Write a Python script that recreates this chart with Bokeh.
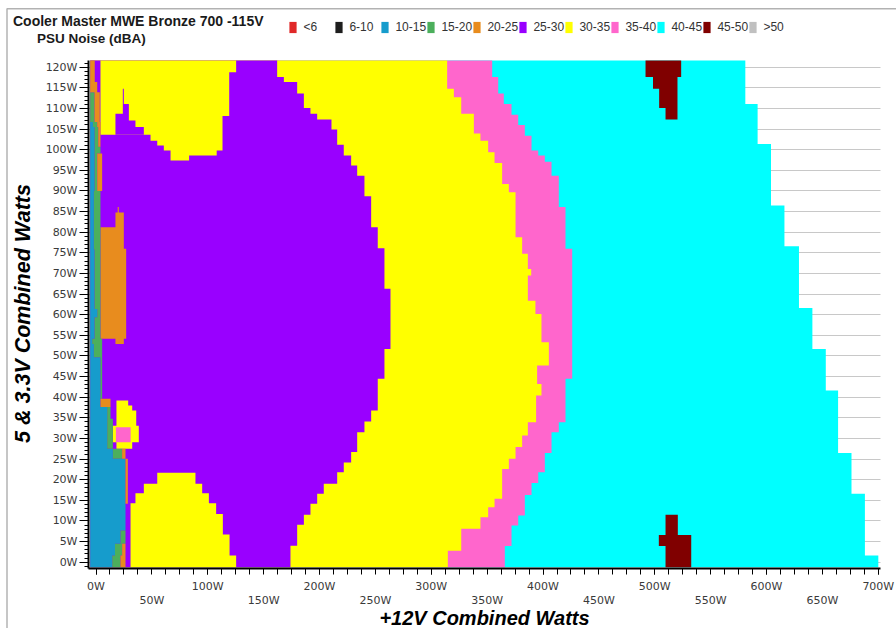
import math
from bokeh.plotting import figure
from bokeh.models import (Range1d, LinearAxis, FixedTicker, SingleIntervalTicker, Grid,
                          PrintfTickFormatter, Label, Legend, LegendItem, PolyAnnotation)
from bokeh.embed import file_html
from bokeh.resources import INLINE

# ---------------------------------------------------------------- bands
bands = ["<6", "6-10", "10-15", "15-20", "20-25", "25-30", "30-35", "35-40", "40-45", "45-50", ">50"]
band_colors = ["#e02828", "#1e1e1e", "#169ccc", "#4caf5c", "#e88c1e", "#9900ff",
               "#ffff00", "#ff66cc", "#00ffff", "#800000", "#c0c0c0"]

# left edge of the measured grid (+12V watts)
x_start = -5.2

# 40-45 dBA: full measured area, right edge per 5V/3.3V load band
cyan_y = [-1.2, 1.6, 16.6, 26.5, 41.6, 51.7, 61.6, 76.6, 86.5, 101.4, 111.1, 121.6]
cyan_x = [700.0, 688.0, 676.0, 664.0, 653.0, 641.0, 629.0, 616.0, 604.0, 592.0, 581.0]

# 45-50 dBA pockets
maroon_top_y = [107.3, 110.1, 114.8, 117.6, 121.6]
maroon_top_l = [509.6, 503.9, 498.4, 491.7]
maroon_top_r = [520.3, 520.3, 520.3, 523.6]
maroon_bot_y = [-1.2, 3.9, 6.6, 11.5]
maroon_bot_l = [509.6, 503.6, 509.6]
maroon_bot_r = [532.6, 532.6, 520.6]

# 35-40 dBA: right edge (start of 40-45)
pink_y = [-1.2, 3.9, 8.9, 11.3, 16.3, 19.2, 21.8, 26.5, 31.5, 33.9, 44.5, 76.0, 86.1, 93.7,
          97.1, 98.6, 99.8, 103.4, 106.0, 108.5, 111.1, 113.6, 117.6, 121.6]
pink_x = [365.8, 371.8, 377.8, 383.7, 389.7, 395.7, 401.6, 407.6, 414.1, 420.1, 426.1, 420.1,
          414.1, 407.6, 401.6, 395.7, 389.7, 383.7, 377.8, 371.8, 364.9, 359.9, 354.5]

# 30-35 dBA: right edge (start of 35-40)
yellow_y = [-1.2, 2.8, 8.1, 10.9, 13.3, 15.4, 22.6, 25.1, 27.9, 30.7, 33.9, 40.4, 43.2, 47.7,
            53.3, 60.2, 63.4, 69.5, 71.1, 74.8, 78.8, 89.7, 91.7, 96.8, 99.4, 102.2, 103.9,
            108.7, 112.7, 114.8, 121.6]
yellow_x = [314.8, 326.8, 344.0, 350.9, 356.6, 363.4, 369.4, 375.4, 381.3, 386.4, 393.8, 398.6,
            394.7, 405.2, 398.6, 393.2, 386.4, 389.4, 386.4, 381.3, 375.4, 369.4, 363.4, 356.6,
            350.9, 344.0, 338.1, 326.8, 320.2, 314.2]

# 25-30 dBA: right edge (start of 30-35)
purple_y = [-1.2, 4.0, 9.1, 11.5, 14.2, 16.6, 19.0, 21.8, 24.2, 26.7, 31.5, 34.1, 36.8, 44.5,
            51.7, 66.3, 76.1, 81.2, 88.7, 93.7, 96.2, 98.6, 101.2, 104.9, 107.3, 108.7, 110.1,
            113.6, 116.4, 117.6, 121.6]
purple_x = [174.0, 180.0, 186.0, 191.9, 197.9, 203.8, 215.8, 221.7, 228.3, 233.7, 240.2, 246.2,
            252.1, 258.1, 263.5, 258.1, 252.1, 246.2, 240.2, 233.7, 228.3, 221.7, 215.8, 210.7,
            197.9, 191.9, 186.0, 180.0, 168.1, 162.1]

# 30-35 dBA islands inside the 25-30 area
ytop_y = [97.4, 98.6, 99.8, 101.0, 102.2, 103.6, 108.2, 118.8, 121.6]
ytop_l = [66.7, 66.7, 60.7, 54.8, 48.8, 4.0, 4.0, 4.0]
ytop_r = [83.3, 108.0, 113.2, 113.2, 113.2, 113.2, 119.2, 125.4]

notch_y = [103.6, 105.5, 107.1, 108.7, 111.1, 114.8]
notch_l = [17.4, 17.4, 17.4, 24.0, 24.0]
notch_r = [42.8, 35.3, 29.4, 29.4, 24.9]

ybot_y = [-1.2, 1.6, 6.7, 11.7, 14.3, 16.7, 19.0, 21.7]
ybot_l = [30.9, 30.9, 30.9, 30.9, 35.3, 42.8, 54.8]
ybot_r = [125.4, 119.5, 113.5, 107.5, 101.0, 95.0, 89.0]

ysmall_y = [27.5, 29.1, 33.1, 36.8, 38.0, 39.2]
ysmall_l = [18.3, 15.1, 18.3, 18.3, 18.3]
ysmall_r = [32.4, 38.3, 36.0, 32.4, 28.8]

psmall_y = [29.1, 32.7]
psmall_l = [17.8]
psmall_r = [31.0]

# 20-25 dBA block
orange_blk_y = [52.9, 54.2, 76.0, 81.2, 84.8, 86.1]
orange_blk_l = [17.4, 4.0, 4.0, 17.4, 19.4]
orange_blk_r = [24.9, 27.0, 24.9, 24.9, 20.4]

# low-load strip: end of 10-15, end of 15-20, end of 20-25 per row
strip_y = [-1.2, 1.6, 4.5, 7.7, 14.2, 25.1, 27.5, 34.8, 37.6, 39.6, 49.7, 52.9, 54.2, 59.4,
           61.4, 75.8, 90.0, 99.1, 100.7, 105.5, 106.7, 113.9, 116.4, 121.6]
strip_blue = [14.5, 17.0, 21.9, 26.4, 26.4, 15.1, 10.0, 10.0, 4.0, 4.0, -1.9, -3.4, -1.3, 1.1,
              -1.3, -1.9, -1.3, -1.3, -1.3, -2.8, -5.2, -5.2, -5.2]
strip_green = [21.9, 23.4, 26.4, 26.4, 26.4, 23.4, 15.1, 13.0, 4.0, 5.5, 5.5, 5.5, 4.0, 4.0,
               4.0, 4.0, 1.1, 4.0, 2.0, 1.1, -1.3, -5.2, -5.2]
strip_orange = [26.4, 26.4, 26.4, 26.4, 28.5, 26.4, 15.1, 13.0, 13.0, 5.5, 5.5, 5.5, 4.0, 4.0,
                4.0, 4.0, 5.5, 4.0, 4.0, 4.0, 3.4, 1.1, -1.1]

# axis extents and tick positions (watts)
x_lo, x_hi = -6.7, 701.9
y_lo, y_hi = -1.53, 121.58
x_major = [0, 100, 200, 300, 400, 500, 600, 700]
x_minor = [i * 12.5 for i in range(57)]
x_second = [50, 150, 250, 350, 450, 550, 650]


def outline(y_edges, x_left, x_right):
    """Closed outline of a stepped region given per-row left/right edges."""
    n = len(y_edges) - 1
    if not isinstance(x_left, list):
        x_left = [x_left] * n
    if not isinstance(x_right, list):
        x_right = [x_right] * n
    xs, ys = [], []
    for i in range(n):
        xs += [x_right[i], x_right[i]]
        ys += [y_edges[i], y_edges[i + 1]]
    for i in reversed(range(n)):
        xs += [x_left[i], x_left[i]]
        ys += [y_edges[i + 1], y_edges[i]]
    return xs, ys


# The frame fills the whole canvas; the axes sit at fixed positions inside it so that
# titles, legend and page lines are drawn in the same space.
W, H = 896, 628
px_per_x = 1.1176
px_per_y = 4.125
x0_px, y0_px = 95.5, 561.7          # pixel position of 0 W on each axis
p = figure(width=W, height=H, title=None,
           x_range=Range1d(-x0_px / px_per_x, (W - x0_px) / px_per_x),
           y_range=Range1d((y0_px - H) / px_per_y, y0_px / px_per_y),
           output_backend="svg", toolbar_location=None, x_axis_type=None, y_axis_type=None,
           min_border=0, min_border_left=0, min_border_right=0, min_border_top=0,
           min_border_bottom=0)
p.outline_line_color = None
p.background_fill_color = "white"
p.border_fill_color = "white"

col = dict(zip(bands, band_colors))

# horizontal grid behind the data
ytick = SingleIntervalTicker(interval=5, num_minor_ticks=5)
p.add_layout(Grid(dimension=1, ticker=ytick, bounds=(0, 120), cross_bounds=(x_lo, x_hi),
                  grid_line_color="#c8c8c8", grid_line_width=1))

legend_src = {}


def region(band, y_edges, x_left, x_right):
    xs, ys = outline(y_edges, x_left, x_right)
    r = p.patch(xs, ys, fill_color=col[band], line_color=None)
    legend_src.setdefault(band, r)
    return r


region("40-45", cyan_y, x_start, cyan_x)
region("45-50", maroon_top_y, maroon_top_l, maroon_top_r)
region("45-50", maroon_bot_y, maroon_bot_l, maroon_bot_r)
region("35-40", pink_y, x_start, pink_x)
region("30-35", yellow_y, x_start, yellow_x)
region("25-30", purple_y, x_start, purple_x)
region("30-35", ytop_y, ytop_l, ytop_r)
region("25-30", notch_y, notch_l, notch_r)
region("30-35", ybot_y, ybot_l, ybot_r)
region("30-35", ysmall_y, ysmall_l, ysmall_r)
region("35-40", psmall_y, psmall_l, psmall_r)
region("20-25", orange_blk_y, orange_blk_l, orange_blk_r)
region("10-15", strip_y, x_start, strip_blue)
region("15-20", strip_y, strip_blue, strip_green)
region("20-25", strip_y, strip_green, strip_orange)

# bands with no measured cells: an empty (NaN) outline keeps their legend swatch
for b in bands:
    if b not in legend_src:
        legend_src[b] = p.patch([math.nan], [math.nan], fill_color=col[b], line_color=None)

# axes
tick_font = "DejaVu Sans"
tick_color = "#3a3a3a"
yaxis = LinearAxis(ticker=ytick, formatter=PrintfTickFormatter(format="%dW"),
                   fixed_location=x_lo, bounds=(y_lo, y_hi))
yaxis.axis_line_width = 2
yaxis.axis_line_color = "black"
yaxis.major_tick_out = 9
yaxis.major_tick_in = 0
yaxis.minor_tick_out = 4
yaxis.minor_tick_in = 0
yaxis.major_label_standoff = 2
yaxis.major_label_text_font = tick_font
yaxis.major_label_text_font_size = "11px"
yaxis.major_label_text_color = tick_color
p.add_layout(yaxis, "left")

xaxis = LinearAxis(ticker=FixedTicker(ticks=x_major, minor_ticks=x_minor),
                   formatter=PrintfTickFormatter(format="%dW"),
                   fixed_location=y_lo, bounds=(x_lo, x_hi))
xaxis.axis_line_width = 2
xaxis.axis_line_color = "black"
xaxis.major_tick_out = 6
xaxis.major_tick_in = 0
xaxis.minor_tick_out = 6
xaxis.minor_tick_in = 0
xaxis.major_label_standoff = 5
xaxis.major_label_text_font = tick_font
xaxis.major_label_text_font_size = "11px"
xaxis.major_label_text_color = tick_color
p.add_layout(xaxis, "below")

xaxis2 = LinearAxis(ticker=FixedTicker(ticks=x_second, minor_ticks=[]),
                    formatter=PrintfTickFormatter(format="%dW"),
                    fixed_location=y_lo, bounds=(0, 700))
xaxis2.axis_line_color = None
xaxis2.major_tick_line_color = None
xaxis2.minor_tick_line_color = None
xaxis2.major_tick_out = 0
xaxis2.major_tick_in = 0
xaxis2.major_label_standoff = 25
xaxis2.major_label_text_font = tick_font
xaxis2.major_label_text_font_size = "11px"
xaxis2.major_label_text_color = tick_color
p.add_layout(xaxis2, "below")

# titles (screen pixels from the canvas' lower-left corner)
title_font = "Liberation Sans"
p.add_layout(Label(x=12.5, y=H - 12, x_units="screen", y_units="screen",
                   text="Cooler Master MWE Bronze 700 -115V", text_font=title_font,
                   text_font_size="14px", text_font_style="bold", text_color="#1a1a1a",
                   text_baseline="top"))
p.add_layout(Label(x=36.5, y=H - 30.5, x_units="screen", y_units="screen",
                   text="PSU Noise (dBA)", text_font=title_font,
                   text_font_size="13.5px", text_font_style="bold", text_color="#1a1a1a",
                   text_baseline="top"))
p.add_layout(Label(x=22, y=H - 313, x_units="screen", y_units="screen",
                   text="5 & 3.3V Combined Watts", angle=math.pi / 2, text_font=title_font,
                   text_font_size="21.5px", text_font_style="bold italic", text_color="black",
                   text_align="center", text_baseline="middle"))
p.add_layout(Label(x=484, y=H - 617, x_units="screen", y_units="screen",
                   text="+12V Combined Watts", text_font=title_font,
                   text_font_size="20px", text_font_style="bold italic", text_color="black",
                   text_align="center", text_baseline="middle"))

legend = Legend(items=[LegendItem(label=b, renderers=[legend_src[b]]) for b in bands],
                orientation="horizontal", location=(288.4, H - 33.5),
                glyph_width=9, glyph_height=14, label_standoff=6, label_width=31, spacing=0,
                padding=0, margin=0, label_height=12,
                label_text_font=title_font, label_text_font_size="12px",
                label_text_color="#333333", background_fill_alpha=0, border_line_color=None)
p.add_layout(legend, "center")

# page frame lines on the left and top
p.add_layout(PolyAnnotation(xs=[6.5, 6.5, W + 10, W + 10], ys=[-10, H - 8.3, H - 8.3, -10],
                            xs_units="screen", ys_units="screen", fill_alpha=0,
                            line_color="black", line_width=1.5))

open("out.html", "w").write(file_html(p, INLINE))
